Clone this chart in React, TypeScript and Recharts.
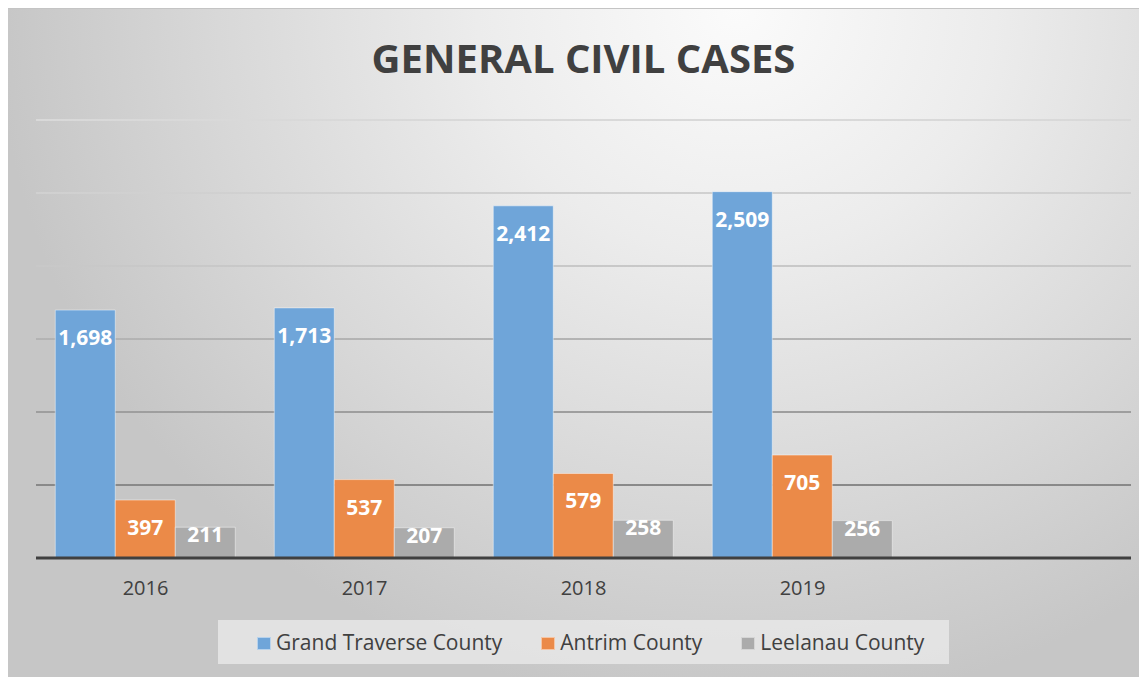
import React from "react";
import { BarChart, Bar, XAxis, YAxis, CartesianGrid, Legend, LabelList } from "recharts";

const years = ["2016", "2017", "2018", "2019", ""];
const grandTraverse = [1698, 1713, 2412, 2509, null];
const antrim = [397, 537, 579, 705, null];
const leelanau = [211, 207, 258, 256, null];
const yTicks = [0, 500, 1000, 1500, 2000, 2500, 3000];

const seriesInfo = [
  { key: "grandTraverse", name: "Grand Traverse County", color: "#6FA5D9" },
  { key: "antrim", name: "Antrim County", color: "#EB8A48" },
  { key: "leelanau", name: "Leelanau County", color: "#ABABAB" },
];

const data = years.map((year, i) => ({
  year,
  grandTraverse: grandTraverse[i],
  antrim: antrim[i],
  leelanau: leelanau[i],
}));

const FONT = "'Open Sans', sans-serif";

function fmt(v: number) {
  return v.toLocaleString("en-US");
}

// Excel-style "inside end" label: near the top, or squeezed up for short bars
function BarValue(props: any) {
  const { x, y, width, height, value } = props;
  if (value == null) return null;
  const cy = height >= 50 ? y + 27 : y + 7;
  return (
    <text
      x={x + width / 2}
      y={cy}
      textAnchor="middle"
      dominantBaseline="central"
      fill="#fff"
      fontFamily={FONT}
      fontWeight={700}
      fontSize={21}
    >
      {fmt(value)}
    </text>
  );
}

function LegendBox() {
  return (
    <div
      style={{
        position: "absolute",
        left: 211,
        top: 611,
        width: 731,
        height: 44,
        boxSizing: "border-box",
        paddingLeft: 39,
        background: "rgba(235,235,235,0.75)",
        display: "flex",
        alignItems: "center",
        gap: 39,
        fontFamily: FONT,
        fontSize: 21,
        color: "#404040",
      }}
    >
      {seriesInfo.map((s) => (
        <div key={s.key} style={{ display: "flex", alignItems: "center" }}>
          <span
            style={{
              display: "inline-block",
              width: 14,
              height: 13,
              boxSizing: "border-box",
              background: s.color,
              border: "1px solid rgba(255,255,255,0.5)",
              marginRight: 5,
              marginTop: 2,
            }}
          />
          <span>{s.name}</span>
        </div>
      ))}
    </div>
  );
}

export default function App() {
  return (
    <div
      style={{
        position: "relative",
        width: 1141,
        height: 669,
        marginLeft: -2,
        boxSizing: "border-box",
        borderTop: "1px solid #c4c4c4",
        borderLeft: "1px solid #c4c4c4",
        background:
          "radial-gradient(ellipse 65% 105% at 64% 0%, #fbfbfb 0%, #ececec 35%, #d8d8d8 70%, #c6c6c6 100%)",
        overflow: "hidden",
      }}
    >
      <div
        style={{
          position: "absolute",
          left: 0,
          top: 25,
          width: 1153,
          textAlign: "center",
          fontFamily: FONT,
          fontWeight: 700,
          fontSize: 40,
          lineHeight: "48px",
          color: "#404040",
        }}
      >
        GENERAL CIVIL CASES
      </div>
      <BarChart
        width={1141}
        height={669}
        data={data}
        margin={{ top: 111, right: 17, left: 29, bottom: 80 }}
        barCategoryGap="8.8%"
        barGap={0}
        style={{ position: "absolute", left: 0, top: 0 }}
      >
        <defs>
          <linearGradient id="gridGrad" gradientUnits="userSpaceOnUse" x1="0" y1="110" x2="0" y2="480">
            <stop offset="0%" stopColor="#d9d9d9" />
            <stop offset="40%" stopColor="#c8c8c8" />
            <stop offset="100%" stopColor="#888888" />
          </linearGradient>
        </defs>
        <CartesianGrid vertical={false} stroke="url(#gridGrad)" strokeWidth={2} />
        <YAxis hide domain={[0, 3000]} ticks={yTicks} />
        <XAxis
          dataKey="year"
          height={40}
          axisLine={{ stroke: "#404040", strokeWidth: 3 }}
          tickLine={false}
          tick={{ fill: "#404040", fontFamily: FONT, fontSize: 20 }}
          tickMargin={17}
        />
        {seriesInfo.map((s) => (
          <Bar
            key={s.key}
            dataKey={s.key}
            name={s.name}
            fill={s.color}
            stroke="rgba(255,255,255,0.45)"
            strokeWidth={1}
            isAnimationActive={false}
          >
            <LabelList dataKey={s.key} content={BarValue} />
          </Bar>
        ))}
        <Legend content={() => null} />
      </BarChart>
      <LegendBox />
    </div>
  );
}
